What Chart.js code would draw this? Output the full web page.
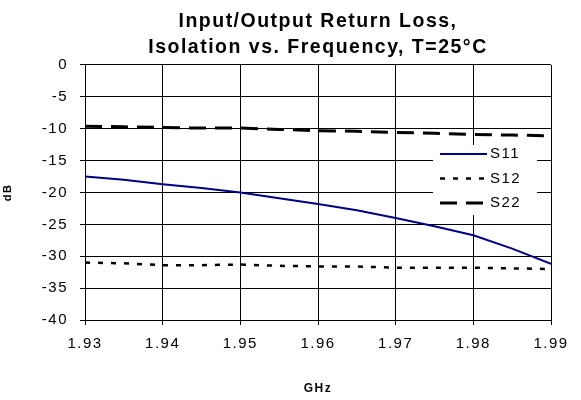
<!DOCTYPE html>
<html>
<head>
<meta charset="utf-8">
<script src="https://cdn.jsdelivr.net/npm/chart.js@4.4.0/dist/chart.umd.min.js"></script>
<style>
  html, body { margin: 0; padding: 0; background: #fff; }
</style>
</head>
<body>
<canvas id="myChart" width="581" height="400"></canvas>
<script>
const ctx = document.getElementById("myChart");

// frequency points (GHz)
const freq = [1.93, 1.935, 1.94, 1.945, 1.95, 1.955, 1.96, 1.965, 1.97, 1.975, 1.98, 1.985, 1.99]
// dB values
const s11 = [-17.5, -18.0, -18.7, -19.3, -20.0, -20.9, -21.8, -22.8, -24.0, -25.3, -26.7, -28.8, -31.2]
const s12 = [-31.0, -31.1, -31.4, -31.4, -31.3, -31.5, -31.6, -31.6, -31.8, -31.8, -31.8, -31.9, -32.0]
const s22 = [-9.6, -9.7, -9.8, -9.9, -9.9, -10.1, -10.3, -10.4, -10.6, -10.7, -10.9, -11.0, -11.1]

const xTicks = [1.93, 1.94, 1.95, 1.96, 1.97, 1.98, 1.99]
const names = ['S11', 'S12', 'S22']

function pts(vals){
  return vals.map((v, i) => ({x: freq[i], y: v}))
}

Chart.defaults.font.family = '"Liberation Sans", Arial, sans-serif'
Chart.defaults.color = '#000'

// the original text is rendered a bit spaced out
const spacing = {
  id: 'spacing',
  beforeUpdate(chart){ chart.ctx.letterSpacing = '1.5px' },
  beforeDraw(chart){ chart.ctx.letterSpacing = '1.5px' }
}

// legend box sitting inside the plot, like the Excel one
const boxLegend = {
  id: 'boxLegend',
  afterDatasetsDraw(chart){
    const c = chart.ctx
    const a = chart.chartArea
    const x = a.right - 118, y = a.top + 80
    c.save()
    c.fillStyle = '#fff'
    c.fillRect(x, y, 104, 70)
    chart.data.datasets.forEach((ds, i) => {
      const ly = y + 9 + i * 24.5
      c.beginPath()
      c.strokeStyle = ds.borderColor
      c.lineWidth = ds.borderWidth
      c.setLineDash(ds.borderDash || [])
      c.moveTo(x + 7, ly)
      c.lineTo(x + 54, ly)
      c.stroke()
      c.setLineDash([])
      c.fillStyle = '#000'
      c.font = '15px "Liberation Sans", Arial, sans-serif'
      c.textBaseline = 'middle'
      c.textAlign = 'left'
      c.fillText(ds.label, x + 57, ly)
    })
    c.restore()
  }
}

const myChart = new Chart(ctx, {
  type: 'line',
  data: {
    datasets: [{
      label: names[0],
      data: pts(s11),
      borderColor: '#000080',
      borderWidth: 2,
    }, {
      label: names[1],
      data: pts(s12),
      borderColor: '#000',
      borderWidth: 2.5,
      borderDash: [5, 8],
    }, {
      label: names[2],
      data: pts(s22),
      borderColor: '#000',
      borderWidth: 3,
      borderDash: [17, 9],
    }]
  },
  options: {
    responsive: false,
    animation: false,
    elements: { point: { radius: 0 }, line: { tension: 0 } },
    layout: { padding: { left: 0, right: 30, top: 0, bottom: 0 } },
    plugins: {
      legend: { display: false },
      tooltip: { enabled: false },
      title: {
        display: true,
        fullSize: false,
        text: ['Input/Output Return Loss,', 'Isolation vs. Frequency, T=25°C'],
        font: { size: 19.5, weight: 'bold', lineHeight: 1.333 },
        color: '#000',
        padding: { top: 9, bottom: 4 }
      }
    },
    scales: {
      x: {
        type: 'linear',
        min: 1.93,
        max: 1.99,
        afterBuildTicks(s){ s.ticks = xTicks.map(v => ({value: v})) },
        afterFit(s){ s.height = 80 },
        ticks: {
          autoSkip: false,
          maxRotation: 0,
          padding: 10,
          font: { size: 15 },
          callback: v => v.toFixed(2)
        },
        grid: { color: '#000', tickLength: 5, lineWidth: 1 },
        border: { color: '#000', width: 1 },
        title: {
          display: true,
          text: 'GHz',
          font: { size: 12, weight: 'bold' },
          padding: { bottom: 4 }
        }
      },
      y: {
        min: -40,
        max: 0,
        afterFit(s){ s.width = 85 },
        ticks: { stepSize: 5, padding: 12, font: { size: 15 } },
        grid: { color: '#000', tickLength: 5, lineWidth: 1 },
        border: { color: '#000', width: 1 },
        title: {
          display: true,
          text: 'dB',
          font: { size: 11, weight: 'bold' },
          padding: { top: 1 }
        }
      }
    }
  },
  plugins: [spacing, boxLegend]
});
</script>
</body>
</html>
